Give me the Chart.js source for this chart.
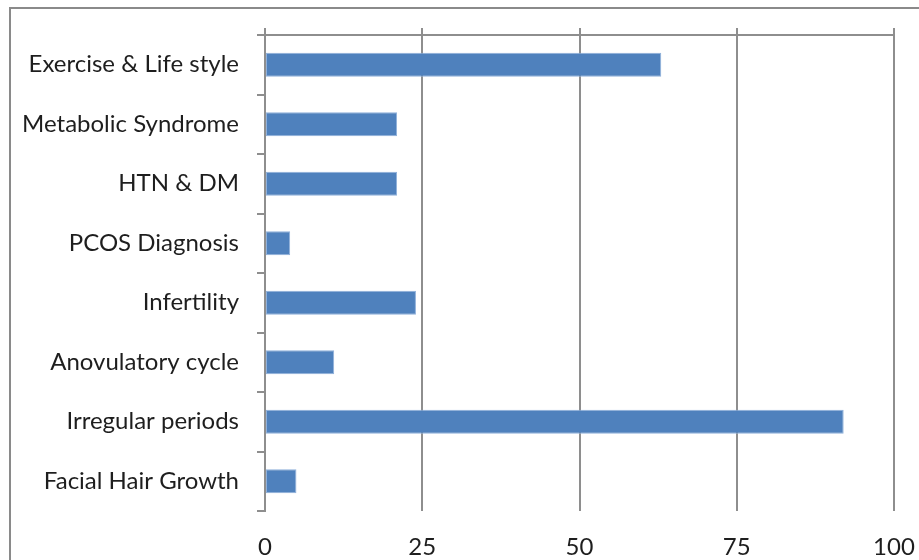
<!DOCTYPE html>
<html>
<head>
<meta charset="utf-8">
<script src="https://cdn.jsdelivr.net/npm/chart.js@4/dist/chart.umd.min.js"></script>
<style>
  html, body { margin: 0; padding: 0; background: #fff; overflow: hidden; }
  #wrap { position: relative; width: 919px; height: 560px; }
  #frame { position: absolute; left: 9px; top: 7px; width: 1200px; height: 1200px;
           border: 2px solid #8a8a8a; box-sizing: border-box; }
  canvas { position: absolute; left: 0; top: 0; }
</style>
</head>
<body>
<div id="wrap">
  <div id="frame"></div>
  <canvas id="chart" width="919" height="560"></canvas>
</div>
<script>
// Categories listed top to bottom
const categories = [
  'Exercise & Life style',
  'Metabolic Syndrome',
  'HTN & DM',
  'PCOS Diagnosis',
  'Infertility',
  'Anovulatory cycle',
  'Irregular periods',
  'Facial Hair Growth'
];
const values = [63, 21, 21, 4, 24, 11, 92, 5];
const valueTicks = [0, 25, 50, 75, 100];

const FONT = 'Lato, "Open Sans", sans-serif';
const LINE = '#8e8e8e';
const TEXT = '#1e1e1e';

// fixed ticks for both value axes
const setValueTicks = s => { s.ticks = valueTicks.map(v => ({ value: v })); };

new Chart(document.getElementById('chart'), {
  type: 'bar',
  data: {
    labels: categories,
    datasets: [{
      data: values,
      backgroundColor: '#4f81bd',
      borderColor: '#8fb0da',
      borderWidth: 1,
      borderSkipped: false,
      barPercentage: 0.405,
      categoryPercentage: 1
    }]
  },
  options: {
    indexAxis: 'y',
    responsive: false,
    animation: false,
    layout: { padding: { left: 0, top: 28, right: 25, bottom: 0 } },
    plugins: { legend: { display: false }, tooltip: { enabled: false } },
    scales: {
      x: {
        position: 'bottom',
        min: 0, max: 100,
        afterBuildTicks: setValueTicks,
        afterFit: s => { s.height = 49; s.paddingLeft = 0; s.paddingRight = 0; },
        border: { display: false },
        grid: { color: LINE, lineWidth: 2, drawTicks: false },
        ticks: { color: TEXT, padding: 22, maxRotation: 0, font: { family: FONT, size: 24 } }
      },
      xTop: {
        axis: 'x',
        position: 'top',
        min: 0, max: 100,
        afterBuildTicks: setValueTicks,
        afterFit: s => { s.height = 7; s.paddingLeft = 0; s.paddingRight = 0; },
        border: { display: true, color: LINE, width: 2 },
        grid: { drawOnChartArea: false, drawTicks: true, tickLength: 7, color: LINE, lineWidth: 2 },
        ticks: { display: false }
      },
      y: {
        offset: true,
        afterFit: s => { s.width = 265; s.paddingTop = 0; s.paddingBottom = 0; },
        border: { display: true, color: LINE, width: 2 },
        grid: { offset: true, drawOnChartArea: false, drawTicks: true, tickLength: 8, color: LINE, lineWidth: 2 },
        ticks: { color: TEXT, padding: 18, font: { family: FONT, size: 24 } }
      }
    }
  }
});
</script>
</body>
</html>
